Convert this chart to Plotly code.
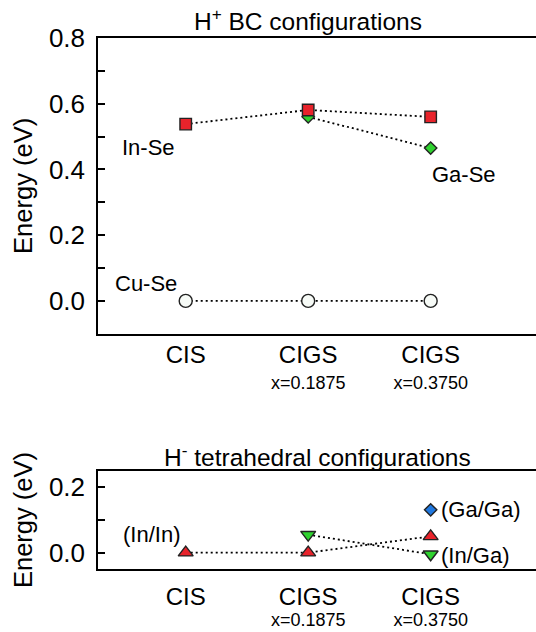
import plotly.graph_objects as go

# Composition axis (shared by both panels)
compositions = ["CIS", "CIGS", "CIGS"]
ga_fraction = ["", "x=0.1875", "x=0.3750"]
positions = [0, 1, 2]

# H+ bond-centre configurations (eV)
in_se_energy = [0.538, 0.581, 0.560]
ga_se_pos = [1, 2]
ga_se_energy = [0.560, 0.465]
cu_se_energy = [0.0, 0.0, 0.0]

# H- tetrahedral configurations (eV)
in_in_energy = [0.0, 0.0, 0.05]
in_ga_pos = [1, 2]
in_ga_energy = [0.055, -0.005]
ga_ga_pos = [2]
ga_ga_energy = [0.131]

FONT = "Liberation Sans, Arial, Helvetica, sans-serif"
DOTS = "2px,3px"
EDGE = "#222222"


def tick_labels(name_px, sub_px):
    return [
        f"<span style='font-size:{name_px}px'>{c}</span>"
        + (f"<br><span style='font-size:{sub_px}px'>{g}</span>" if g else "")
        for c, g in zip(compositions, ga_fraction)
    ]


fig = go.Figure()


def series(x, y, xa, ya, symbol, size, fill):
    fig.add_trace(go.Scatter(
        x=x, y=y, xaxis=xa, yaxis=ya,
        mode="lines+markers",
        line=dict(color="black", width=1.8, dash=DOTS),
        marker=dict(symbol=symbol, size=size, color=fill,
                    line=dict(color=EDGE, width=1.4)),
        showlegend=False, cliponaxis=False,
    ))


# upper panel
series(ga_se_pos, ga_se_energy, "x", "y", "diamond", 9.5, "#2fd22f")
series(positions, in_se_energy, "x", "y", "square", 11.5, "#e8232b")
series(positions, cu_se_energy, "x", "y", "circle", 13, "#f7fbf7")

# lower panel
series(in_ga_pos, in_ga_energy, "x2", "y2", "triangle-down", 13, "#2fd22f")
series(positions, in_in_energy, "x2", "y2", "triangle-up", 13, "#e8232b")
series(ga_ga_pos, ga_ga_energy, "x2", "y2", "diamond", 9.5, "#1f78e0")

xcommon = dict(
    range=[-0.716, 2.86], tickmode="array", tickvals=positions,
    ticks="", showline=True, linecolor="black",
    linewidth=1.5, mirror=True, showgrid=False, zeroline=False,
)
ycommon = dict(
    tick0=0, dtick=0.2, tickformat=".1f", ticks="inside", ticklen=7,
    tickwidth=1.5, tickcolor="black", showline=True, linecolor="black",
    linewidth=1.5, showgrid=False, zeroline=False,
    tickfont=dict(family=FONT, size=26, color="black"),
    ticklabelstandoff=6,
    minor=dict(tick0=0, dtick=0.1, ticks="inside", ticklen=7,
               tickwidth=1.5, tickcolor="black", showgrid=False),
    title=dict(text="Energy (eV)", standoff=9,
               font=dict(family=FONT, size=25.5, color="black")),
)

fig.update_layout(
    width=536, height=632,
    margin=dict(l=98, r=0, t=38, b=63),
    paper_bgcolor="white", plot_bgcolor="white",
    font=dict(family=FONT, color="black"),
    xaxis=dict(xcommon, anchor="y", domain=[0, 1],
               ticktext=tick_labels(24, 18),
               tickfont=dict(family=FONT, size=20, color="black"),
               ticklabelstandoff=3),
    yaxis=dict(ycommon, anchor="x", domain=[0.443, 1.0], range=[-0.1, 0.8]),
    xaxis2=dict(xcommon, anchor="y2", domain=[0, 1],
                ticktext=tick_labels(24, 18),
                tickfont=dict(family=FONT, size=16.5, color="black"),
                ticklabelstandoff=14),
    yaxis2=dict(ycommon, anchor="x2", domain=[0, 0.1846], range=[-0.05, 0.25]),
)

labels = [
    dict(text="H<sup>+</sup> BC configurations", xref="paper", yref="paper",
         x=0.48, y=1.034, xanchor="center", yanchor="middle", size=24.5),
    dict(text="H<sup>-</sup> tetrahedral configurations", xref="paper", yref="paper",
         x=0.50, y=0.2145, xanchor="center", yanchor="middle", size=24.5),
    dict(text="In-Se", xref="x", yref="y", x=-0.536, y=0.466,
         xanchor="left", yanchor="middle", size=22),
    dict(text="Ga-Se", xref="x", yref="y", x=1.994, y=0.386,
         xanchor="left", yanchor="middle", size=22),
    dict(text="Cu-Se", xref="x", yref="y", x=-0.593, y=0.052,
         xanchor="left", yanchor="middle", size=22),
    dict(text="(In/In)", xref="x2", yref="y2", x=-0.53, y=0.057,
         xanchor="left", yanchor="middle", size=22),
    dict(text="(Ga/Ga)", xref="x2", yref="y2", x=2.07, y=0.131,
         xanchor="left", yanchor="middle", size=22),
    dict(text="(In/Ga)", xref="x2", yref="y2", x=2.07, y=-0.01,
         xanchor="left", yanchor="middle", size=22),
]
for a in labels:
    size = a.pop("size")
    fig.add_annotation(**a, showarrow=False,
                       font=dict(family=FONT, size=size, color="black"))

fig.write_html("out.html")
